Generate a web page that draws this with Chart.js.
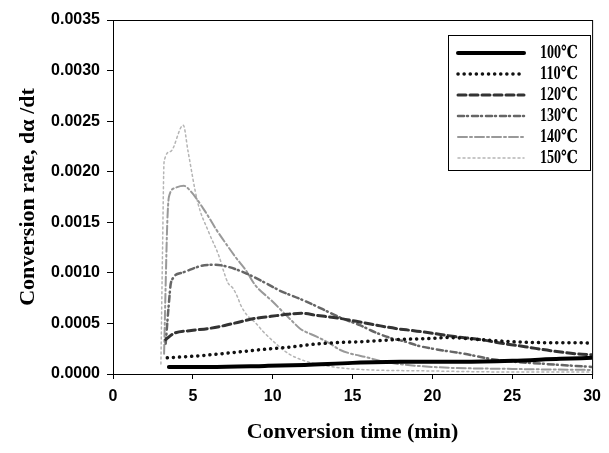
<!DOCTYPE html>
<html>
<head>
<meta charset="utf-8">
<script src="https://cdn.jsdelivr.net/npm/chart.js@4.4.1/dist/chart.umd.min.js"></script>
<style>
  html, body { margin: 0; padding: 0; background: #fff; }
  #wrap { width: 609px; height: 453px; }
</style>
</head>
<body>
<div id="wrap"><canvas id="rate-chart" width="609" height="453"></canvas></div>
<script>
// series (time in min, rate in 1/s)
const time100 = [3.5, 6, 9.5, 12, 15, 18, 21.8, 25, 28, 30];
const rate100 = [0.00007, 0.00007, 0.00008, 0.00009, 0.00011, 0.00012, 0.00012, 0.00013, 0.00015, 0.00016];

const time110 = [3.4, 5.4, 8.0, 9.2, 11.3, 12.3, 14, 15.6, 17.7, 19.7, 21, 23, 24.9, 26.9, 29.4, 30];
const rate110 = [0.00016, 0.00018, 0.00022, 0.00024, 0.00027, 0.00029, 0.00031, 0.00032, 0.00034, 0.00035, 0.00036, 0.00034, 0.00032, 0.00031, 0.00031, 0.0003];

const time120 = [3.3, 3.8, 4.9, 6.0, 7.0, 7.8, 8.9, 9.9, 10.9, 11.8, 12.75, 14.2, 15.6, 16.6, 17.7, 18.7, 19.7, 21.4, 23, 24.5, 25.8, 27.4, 29, 30];
const rate120 = [0.00034, 0.0004, 0.00043, 0.00045, 0.00048, 0.00051, 0.00055, 0.00057, 0.00059, 0.0006, 0.00058, 0.00055, 0.00051, 0.00048, 0.00045, 0.00043, 0.00041, 0.00037, 0.00034, 0.0003, 0.00027, 0.00023, 0.0002, 0.00019];

const time130 = [3.3, 3.5, 3.64, 4.3, 5.55, 6.4, 7.2, 8.26, 9.55, 10.5, 11.6, 12.6, 13.4, 14.2, 15.5, 16.3, 17.3, 18.3, 19.1, 20, 22, 24, 27, 30];
const rate130 = [0.0003, 0.0007, 0.00091, 0.001, 0.00107, 0.00108, 0.00106, 0.001, 0.0009, 0.00082, 0.00075, 0.00068, 0.00062, 0.00056, 0.00048, 0.00042, 0.00036, 0.00032, 0.00028, 0.00025, 0.0002, 0.00014, 0.0001, 0.00007];

const time140 = [3.2, 3.3, 3.4, 3.5, 3.9, 4.44, 4.9, 5.8, 6.5, 7.2, 7.7, 8.3, 8.9, 9.9, 11.3, 11.7, 12.75, 13.6, 14.2, 16, 17, 20, 25, 30];
const rate140 = [0.0002, 0.0009, 0.0015, 0.00175, 0.00184, 0.00186, 0.0018, 0.0016, 0.00142, 0.00126, 0.00115, 0.00103, 0.00088, 0.00073, 0.00051, 0.00045, 0.00037, 0.0003, 0.00024, 0.00016, 0.00012, 0.00007, 0.00005, 0.00004];

const time150 = [3.0, 3.1, 3.2, 3.6, 4.4, 4.7, 5.3, 6.0, 6.65, 6.9, 7.2, 7.5, 7.8, 8.0, 8.4, 8.9, 9.4, 10.2, 11, 12, 13, 15, 20, 25, 30];
const rate150 = [0.0001, 0.0012, 0.0021, 0.0022, 0.00246, 0.0022, 0.0017, 0.0014, 0.00116, 0.00103, 0.0009, 0.00085, 0.00076, 0.00068, 0.00058, 0.00051, 0.00042, 0.0003, 0.0002, 0.00013, 0.00009, 0.00005, 0.00003, 0.00002, 0.00002];

const seriesLabels = ["100℃", "110℃", "120℃", "130℃", "140℃", "150℃"];
const xTicks = [0, 5, 10, 15, 20, 25, 30];
const yTicks = [0, 0.0005, 0.001, 0.0015, 0.002, 0.0025, 0.003, 0.0035];

const times = [time100, time110, time120, time130, time140, time150];
const rates = [rate100, rate110, rate120, rate130, rate140, rate150];

const looks = [
  { color: "#000000", width: 4, dash: [] },
  { color: "#111111", width: 3.5, dash: [0.1, 6] },
  { color: "#333333", width: 3, dash: [8, 4] },
  { color: "#666666", width: 2.5, dash: [6, 3, 1, 4] },
  { color: "#999999", width: 2, dash: [9, 3, 2, 3] },
  { color: "#b5b5b5", width: 1.5, dash: [2, 3] },
];

function toPoints(xs, ys) {
  return xs.map((x, i) => ({ x: x, y: ys[i] }));
}

const datasets = seriesLabels.map((label, i) => ({
  label: label,
  data: toPoints(times[i], rates[i]),
  borderColor: looks[i].color,
  borderWidth: looks[i].width,
  borderDash: looks[i].dash,
  borderCapStyle: "round",
  pointRadius: 0,
  fill: false,
  cubicInterpolationMode: "monotone",
}));

// frame round the plot area
const framePlugin = {
  id: "frame",
  afterDraw(chart) {
    const { ctx, chartArea: a } = chart;
    ctx.save();
    ctx.strokeStyle = "#000";
    ctx.lineWidth = 1;
    ctx.strokeRect(a.left + 0.5, a.top + 0.5, a.right - a.left, a.bottom - a.top);
    ctx.restore();
  },
};

// boxed legend inside the plot, upper right
const boxLegend = {
  id: "boxLegend",
  afterDraw(chart) {
    const ctx = chart.ctx;
    ctx.save();
    ctx.strokeStyle = "#000";
    ctx.lineWidth = 1;
    ctx.strokeRect(448.5, 35.5, 142, 135);
    ctx.font = "bold 18px 'Liberation Serif', 'DejaVu Serif', serif";
    ctx.textBaseline = "middle";
    ctx.fillStyle = "#000";
    chart.data.datasets.forEach((ds, i) => {
      const y = 53 + i * 21;
      ctx.beginPath();
      ctx.strokeStyle = ds.borderColor;
      ctx.lineWidth = ds.borderWidth;
      ctx.lineCap = "round";
      ctx.setLineDash(ds.borderDash);
      ctx.moveTo(458, y);
      ctx.lineTo(524, y);
      ctx.stroke();
      ctx.setLineDash([]);
      ctx.fillText(ds.label, 540, y, 38);
    });
    ctx.restore();
  },
};

new Chart(document.getElementById("rate-chart"), {
  type: "line",
  data: { datasets: datasets },
  plugins: [framePlugin, boxLegend],
  options: {
    responsive: false,
    animation: false,
    layout: { padding: { left: 0, right: 9, top: 20, bottom: 0 } },
    plugins: { legend: { display: false }, tooltip: { enabled: false } },
    scales: {
      x: {
        type: "linear",
        min: 0,
        max: 30,
        afterBuildTicks: (axis) => { axis.ticks = xTicks.map((v) => ({ value: v })); },
        afterFit: (axis) => { axis.height = 79; },
        grid: { drawOnChartArea: false, drawTicks: true, tickLength: 5, color: "#000" },
        border: { color: "#000", width: 1 },
        ticks: {
          color: "#000",
          padding: 8,
          maxRotation: 0,
          font: { family: "'Liberation Sans', Arial, sans-serif", size: 16, weight: "bold" },
        },
        title: {
          display: true,
          text: "Conversion time (min)",
          color: "#000",
          padding: { top: 0, bottom: 7 },
          font: { family: "'Liberation Serif', 'Times New Roman', serif", size: 22, weight: "bold" },
        },
      },
      y: {
        min: 0,
        max: 0.0035,
        afterBuildTicks: (axis) => { axis.ticks = yTicks.map((v) => ({ value: v })); },
        afterFit: (axis) => { axis.width = 113; },
        grid: { drawOnChartArea: false, drawTicks: true, tickLength: 6, color: "#000" },
        border: { color: "#000", width: 1 },
        ticks: {
          color: "#000",
          padding: 7,
          callback: (v) => Number(v).toFixed(4),
          font: { family: "'Liberation Sans', Arial, sans-serif", size: 16, weight: "bold" },
        },
        title: {
          display: true,
          text: "Conversion rate, dα /dt",
          color: "#000",
          padding: { top: 15, bottom: 0 },
          font: { family: "'Liberation Serif', 'Times New Roman', serif", size: 22, weight: "bold" },
        },
      },
    },
  },
});
</script>
</body>
</html>
